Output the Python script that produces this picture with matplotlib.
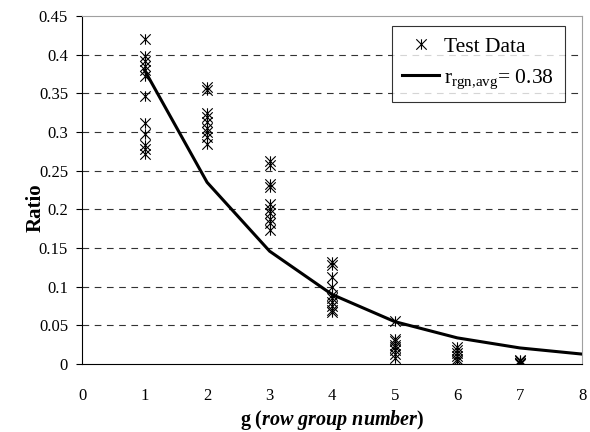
import numpy as np
import matplotlib
matplotlib.use("Agg")
import matplotlib.pyplot as plt
from matplotlib.path import Path

plt.rcParams['font.family'] = ['Liberation Serif', 'DejaVu Serif']
plt.rcParams['mathtext.fontset'] = 'custom'
plt.rcParams['mathtext.rm'] = 'Liberation Serif'
plt.rcParams['mathtext.it'] = 'Liberation Serif:italic'
plt.rcParams['mathtext.bf'] = 'Liberation Serif:bold'
plt.rcParams['mathtext.bfit'] = 'Liberation Serif:bold:italic'

# test data (ratio per row group)
g1 = [0.42, 0.398, 0.392, 0.386, 0.38, 0.372, 0.346, 0.312, 0.298, 0.283, 0.278, 0.272]
g2 = [0.358, 0.354, 0.325, 0.32, 0.313, 0.305, 0.3, 0.293, 0.285]
g3 = [0.262, 0.258, 0.233, 0.229, 0.207, 0.2, 0.195, 0.188, 0.182, 0.173]
g4 = [0.132, 0.128, 0.113, 0.1, 0.09, 0.085, 0.08, 0.075, 0.07, 0.068]
g5 = [0.056, 0.033, 0.03, 0.025, 0.022, 0.018, 0.013, 0.008]
g6 = [0.022, 0.018, 0.014, 0.01, 0.007, 0.004]
g7 = [0.006, 0.004, 0.002, 0.001, 0.0]
test_groups = [g1, g2, g3, g4, g5, g6, g7]

# fitted curve r_rgn,avg = 0.38
curve_g = [1, 2, 3, 4, 5, 6, 7, 8]
curve_ratio = [0.38, 0.235, 0.146, 0.09, 0.055, 0.034, 0.021, 0.013]

# excel style star marker: an x with a vertical bar
star = Path([(-1, -1), (1, 1), (-1, 1), (1, -1), (0, -1), (0, 1)],
            [Path.MOVETO, Path.LINETO, Path.MOVETO, Path.LINETO, Path.MOVETO, Path.LINETO])

fig = plt.figure(figsize=(5.9, 4.32), dpi=100)
ax = fig.add_axes([0.139, 0.157, 0.848, 0.806])

xs, ys = [], []
for i, grp in enumerate(test_groups):
    xs += [i + 1] * len(grp)
    ys += grp
ax.plot(xs, ys, linestyle='none', marker=star, markersize=7.5,
        markeredgewidth=0.8, color='black', label='Test Data', zorder=3)
ax.plot(curve_g, curve_ratio, color='black', lw=2.2,
        label=r'r$_{\mathrm{rgn{,}avg}}$= 0.38', zorder=4)

ax.set_xlim(0, 8)
ax.set_ylim(0, 0.45)
ax.set_xticks(range(0, 9))
ax.set_yticks(np.arange(0, 0.451, 0.05))
ax.set_yticklabels(['0', '0.05', '0.1', '0.15', '0.2', '0.25', '0.3', '0.35', '0.4', '0.45'])
ax.tick_params(axis='both', labelsize=12, direction='out', length=4, width=0.8)
ax.tick_params(axis='y', pad=6)
ax.tick_params(axis='x', length=0, pad=17)

for y in np.arange(0.05, 0.401, 0.05):
    ax.axhline(y, color='#333333', lw=0.8, linestyle=(0, (6, 5)), zorder=1)

ax.spines['top'].set_color('#a0a0a0')
ax.spines['right'].set_color('#a0a0a0')
ax.spines['left'].set_linewidth(0.8)
ax.spines['bottom'].set_linewidth(0.8)

ax.set_ylabel('Ratio', fontsize=15, fontweight='bold')
ax.yaxis.set_label_coords(-0.072, 0.45)
ax.set_xlabel(r'$\mathbf{g\ (}\mathbfit{row\ group\ number}\mathbf{)}$',
              fontsize=14.5, labelpad=3)

leg = ax.legend(loc='upper right', bbox_to_anchor=(0.978, 0.99), fontsize=15.5,
                frameon=True, fancybox=False, edgecolor='black',
                handlelength=1.7, handletextpad=0.25, borderpad=0.5,
                labelspacing=0.5, borderaxespad=0.3)
leg.get_frame().set_linewidth(0.8)

fig.savefig('out.png', dpi=100)
